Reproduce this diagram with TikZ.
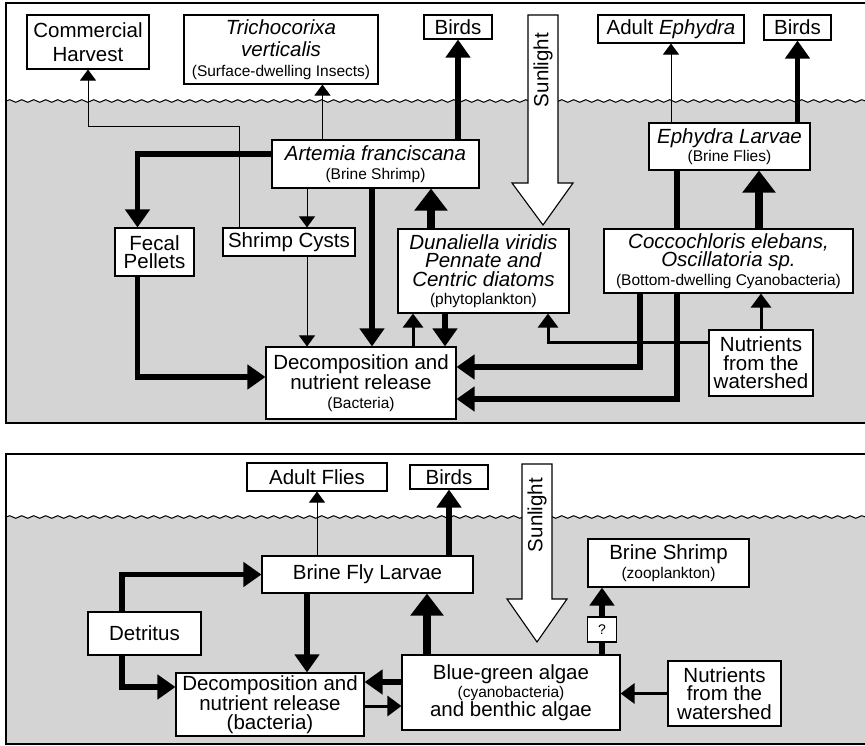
\documentclass[tikz,border=0pt]{standalone}
\usepackage{fontspec}
\setmainfont{Liberation Sans}
\usetikzlibrary{arrows.meta}
\usetikzlibrary{decorations.pathmorphing}

\definecolor{lakegray}{RGB}{212,212,212}
\newcommand{\fsmain}{\fontsize{20.5}{18.5}\selectfont}
\newcommand{\fssmall}{\fontsize{15.5}{16}\selectfont}
\newcommand{\fstiny}{\fontsize{14}{15}\selectfont}

\tikzset{
  box/.style={draw, fill=white, line width=1.1pt, inner sep=0pt, align=center, font=\fsmain},
  boxsize/.style 2 args={minimum width=#1, minimum height=#2},
  panel/.style={draw, line width=2pt},
  wave/.style={decoration={snake, segment length=12pt, amplitude=1.3pt}},
  sun/.style={draw, fill=white, line width=1.1pt, line join=miter},
  thin flow/.style={line width=1pt, -{Triangle[length=11pt,width=16pt]}},
  mid flow/.style={line width=3pt, -{Triangle[length=14pt,width=20pt]}},
  thick flow/.style={line width=5.5pt, -{Triangle[length=18pt,width=24pt]}},
  heavy flow/.style={line width=8pt, -{Triangle[length=22pt,width=32pt]}}
}

\begin{document}
\begin{tikzpicture}[x=1pt, y=-1pt]
\useasboundingbox (0,0) rectangle (865,746);
\clip (0,0) rectangle (865,746);
% water
\fill[lakegray] (6,423) -- (6,101) decorate[wave]{-- (870,101)} -- (870,423) -- cycle;
\draw[line width=1pt] (6,101) decorate[wave]{-- (870,101)};
\fill[lakegray] (6,744) -- (6,517) decorate[wave]{-- (870,517)} -- (870,744) -- cycle;
\draw[line width=1pt] (6,517) decorate[wave]{-- (870,517)};
% panels
\draw[panel] (6,3) rectangle (870,423);
\draw[panel] (6,454) rectangle (870,744);
% sunlight
\draw[sun] (528,15) -- (558,15) -- (558,183) -- (573,183) -- (543,225) -- (512,183) -- (528,183) -- cycle;
\node[font=\fsmain, rotate=90] (sunA) at (543,70) {Sunlight};
\draw[sun] (522,464) -- (552,464) -- (552,599) -- (567,599) -- (537,642) -- (507,599) -- (522,599) -- cycle;
\node[font=\fsmain, rotate=90] (sunB) at (537,515) {Sunlight};

% top panel boxes
\node[box, boxsize={122pt}{54pt}] (harvest) at (88,42) {Commercial\\[5pt]Harvest};
\node[box, boxsize={194pt}{69pt}] (trich) at (281,49.5) {\textit{Trichocorixa}\\[4pt]\textit{verticalis}\\[1pt]{\fssmall (Surface-dwelling Insects)}};
\node[box, boxsize={68pt}{24pt}] (birdsA) at (458,27) {Birds};
\node[box, boxsize={146pt}{28pt}] (adulteph) at (671,29) {Adult \textit{Ephydra}};
\node[box, boxsize={67pt}{25pt}] (birdsB) at (797.5,27.5) {Birds};
\node[box, boxsize={207pt}{48pt}] (artemia) at (375.5,164) {\textit{Artemia franciscana}\\{\fssmall (Brine Shrimp)}};
\node[box, boxsize={161pt}{47pt}] (ephlarv) at (729.5,146.5) {\textit{Ephydra Larvae}\\{\fssmall (Brine Flies)}};
\node[box, boxsize={79pt}{48pt}] (fecal) at (154.5,252) {Fecal\\Pellets};
\node[box, boxsize={132pt}{28pt}] (cysts) at (289,242) {Shrimp Cysts};
\node[box, boxsize={171pt}{84pt}] (dunal) at (483.5,271) {\textit{Dunaliella viridis}\\\textit{Pennate and}\\\textit{Centric diatoms}\\{\fssmall (phytoplankton)}};
\node[box, boxsize={104pt}{66pt}] (nutrA) at (761,363) {Nutrients\\from the\\watershed};
\node[box, boxsize={190pt}{72pt}] (decompA) at (361,383) {Decomposition and\\nutrient release\\{\fssmall (Bacteria)}};
% larvae to decomposition runs behind the cyanobacteria box
\draw[thick flow] ([xshift=-52.5pt]ephlarv.south) |- ([yshift=-16pt]decompA.east);
\node[box, boxsize={249pt}{64pt}] (cocco) at (728.5,261) {\textit{Coccochloris elebans,}\\\textit{Oscillatoria sp.}\\{\fssmall (Bottom-dwelling Cyanobacteria)}};

% top panel flows
\draw[thin flow] ([xshift=17pt]cysts.north west) |- ([yshift=-57pt]harvest.south) -- (harvest.south);
\draw[thin flow] ([xshift=51pt]artemia.north west) coordinate (p) -- (p |- trich.south);
\draw[thick flow] (birdsA.south |- artemia.north) -- (birdsA.south);
\draw[thick flow] ([yshift=10pt]artemia.west) -| ([xshift=-17pt]fecal.north);
\path ([xshift=18pt]cysts.north) coordinate (p);
\draw[thin flow] (artemia.south -| p) -- (p);
\draw[thick flow] ([xshift=-3.5pt]artemia.south) coordinate (p) -- (p |- decompA.north);
\draw[heavy flow] ([xshift=-52.5pt]dunal.north) coordinate (p) -- (p |- artemia.south);
\draw[thin flow] ([xshift=18pt]cysts.south) coordinate (p) -- (p |- decompA.north);
\draw[thick flow] ([xshift=-17pt]fecal.south) |- ([yshift=6pt]decompA.west);
\draw[mid flow] ([xshift=52pt]decompA.north) coordinate (p) -- (p |- dunal.south);
\draw[thick flow] ([xshift=-38.5pt]dunal.south) coordinate (p) -- (p |- decompA.north);
\draw[mid flow] ([yshift=21pt]nutrA.west) -| ([xshift=64.5pt]dunal.south);
\draw[mid flow] (nutrA.north) -- (nutrA.north |- cocco.south);
\draw[thick flow] ([xshift=-88.5pt]cocco.south) |- ([yshift=16pt]decompA.east);
\path ([xshift=29.5pt]ephlarv.south) coordinate (p);
\draw[heavy flow] (cocco.north -| p) -- (p);
\draw[thin flow] (adulteph.south |- ephlarv.north) -- (adulteph.south);
\draw[thick flow] (birdsB.south |- ephlarv.north) -- (birdsB.south);

% bottom panel boxes
\node[box, boxsize={140pt}{28pt}] (adultfl) at (317,477) {Adult Flies};
\node[box, boxsize={78pt}{24pt}] (birdsC) at (449,477) {Birds};
\node[box, boxsize={161pt}{48pt}] (shrimpB) at (668.5,563) {Brine Shrimp\\{\fssmall (zooplankton)}};
\node[box, boxsize={211pt}{37pt}] (flylarv) at (367.5,574.5) {Brine Fly Larvae};
\node[box, boxsize={113pt}{43pt}] (detritus) at (144.5,633.5) {Detritus};
\node[box, boxsize={188pt}{63pt}] (decompB) at (270,704.5) {Decomposition and\\nutrient release\\(bacteria)};
\node[box, boxsize={218pt}{75pt}] (bluegreen) at (511,692.5) {Blue-green algae\\{\fssmall (cyanobacteria)}\\and benthic algae};
\node[box, boxsize={113pt}{65pt}] (nutrB) at (724.5,693.5) {Nutrients\\from the\\watershed};

% bottom panel flows
\draw[thin flow] (adultfl.south |- flylarv.north) -- (adultfl.south);
\draw[thick flow] (birdsC.south |- flylarv.north) -- (birdsC.south);
\draw[thick flow] ([xshift=-22.5pt]detritus.north) |- (flylarv.west);
\draw[thick flow] ([xshift=-22.5pt]detritus.south) |- ([yshift=17.5pt]decompB.west);
\draw[thick flow] ([xshift=-60.5pt]flylarv.south) coordinate (p) -- (p |- decompB.north);
\draw[heavy flow] ([xshift=-84pt]bluegreen.north) coordinate (p) -- (p |- flylarv.south);
\draw[thick flow] ([yshift=10.5pt]bluegreen.west) coordinate (p) -- (p -| decompB.east);
\draw[mid flow] ([yshift=-1.5pt]decompB.east) coordinate (p) -- (p -| bluegreen.west);
\draw[mid flow] (nutrB.west) -- (nutrB.west -| bluegreen.east);
\path (602,629.5) coordinate (q);
\draw[thick flow] (bluegreen.north -| q) -- (shrimpB.south -| q);
\node[box, boxsize={29pt}{25pt}, font=\fstiny] (qbox) at (q) {?};
\end{tikzpicture}
\end{document}
